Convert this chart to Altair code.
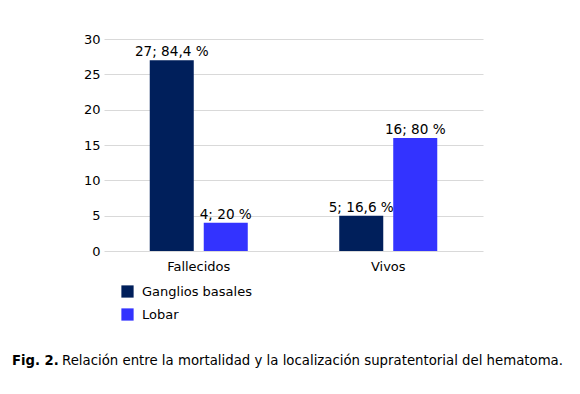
import altair as alt
import pandas as pd

categories = ["Fallecidos", "Fallecidos", "Vivos", "Vivos"]
series = ["Ganglios basales", "Lobar", "Ganglios basales", "Lobar"]
values = [27, 4, 5, 16]
labels = ["27; 84,4 %", "4; 20 %", "5; 16,6 %", "16; 80 %"]
y_ticks = [0, 5, 10, 15, 20, 25, 30]
caption_bold = "Fig. 2."
caption_text = "Relación entre la mortalidad y la localización supratentorial del hematoma."

df = pd.DataFrame({"cat": categories, "serie": series, "valor": values, "label": labels})

FONT = "DejaVu Sans"

x = alt.X("cat:N", title=None, sort=["Fallecidos", "Vivos"],
          scale=alt.Scale(paddingInner=0, paddingOuter=0),
          axis=alt.Axis(labelAngle=0, domain=False, ticks=False, grid=False, labelFontSize=13,
                        labelFont=FONT, labelColor="black", labelPadding=9))
xo = alt.XOffset("serie:N", sort=["Ganglios basales", "Lobar"],
                 scale=alt.Scale(paddingInner=0.185, paddingOuter=0.847))
y = alt.Y("valor:Q", title=None,
          scale=alt.Scale(domain=[0, 30], nice=False),
          axis=alt.Axis(values=y_ticks, domain=False, ticks=False, labelFontSize=13,
                        labelFont=FONT, labelColor="black", labelPadding=4,
                        gridColor="#d9d9d9", gridWidth=1))

bars = alt.Chart(df).mark_bar().encode(
    x=x, xOffset=xo, y=y,
    color=alt.Color("serie:N", sort=["Ganglios basales", "Lobar"],
                    scale=alt.Scale(domain=["Ganglios basales", "Lobar"],
                                    range=["#001f5b", "#3333ff"]),
                    legend=alt.Legend(title=None, orient="none", legendX=17, legendY=246,
                                      symbolType="square", symbolSize=150,
                                      symbolStrokeWidth=0, labelFontSize=13,
                                      labelFont=FONT, labelColor="black",
                                      rowPadding=9, labelOffset=8)),
)

text = alt.Chart(df).mark_text(baseline="bottom", dy=-1, fontSize=13.6, font=FONT,
                               color="black").encode(
    x=x, xOffset=xo, y=y, text="label:N")

cap_df = pd.DataFrame({"a": [caption_bold], "b": [caption_text]})
cap1 = alt.Chart(cap_df).mark_text(align="left", baseline="middle", fontSize=13.2,
                                   font=FONT, fontWeight="bold", color="black").encode(
    x=alt.value(-92), y=alt.value(322), text="a:N")
cap2 = alt.Chart(cap_df).mark_text(align="left", baseline="middle", fontSize=13.3,
                                   font=FONT, color="black").encode(
    x=alt.value(-42), y=alt.value(322), text="b:N")

chart = (
    alt.layer(bars, text, cap1, cap2)
    .properties(
        width=379, height=212,
        autosize=alt.AutoSizeParams(type="none"),
        padding={"left": 96, "top": 31, "right": 89, "bottom": 135},
        view=alt.ViewBackground(stroke=None, strokeWidth=0),
    )
    .configure(background="white")
    .configure_view(stroke=None, strokeWidth=0)
    .configure_axisX(grid=False, domain=False, ticks=False)
    .configure_axisY(domain=False, ticks=False)
)

chart.save("out.html", embed_options={"renderer": "svg", "actions": False})
